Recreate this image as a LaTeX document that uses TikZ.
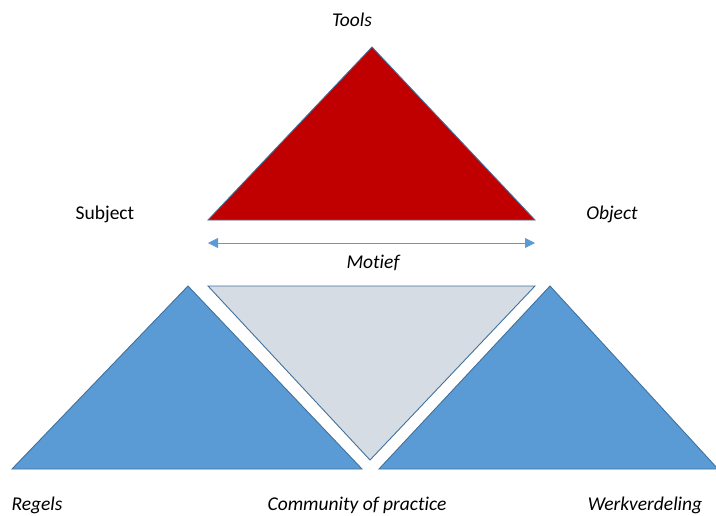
\documentclass[tikz,border=0pt]{standalone}
\usepackage{fontspec}
\setmainfont[Ligatures=NoCommon]{Carlito}
\definecolor{toolred}{HTML}{C00000}
\definecolor{ruleblue}{HTML}{5B9BD5}
\definecolor{commgrey}{HTML}{D6DCE4}
\definecolor{edgeblue}{HTML}{41719C}
\usetikzlibrary{arrows.meta}
\begin{document}
\begin{tikzpicture}
		[x=1pt, y=-1pt,
		tri/.style= {draw=edgeblue, line width=0.9pt, line join=miter},
		lbl/.style= {font=\fontsize{19.5}{22}\selectfont\itshape, inner sep=0pt}]

		\useasboundingbox (0,0) rectangle (716,515);

		% corners
		\coordinate (t0) at (372,47);
		\coordinate (t1) at (208,220);
		\coordinate (t2) at (535,220);

		\coordinate (c0) at (208,286);
		\coordinate (c1) at (535,286);
		\coordinate (c2) at (370,460);

		\coordinate (r0) at (188,286);
		\coordinate (r1) at (12,469);
		\coordinate (r2) at (362,469);

		\coordinate (w0) at (550,286);
		\coordinate (w1) at (379,469);
		\coordinate (w2) at (718,469);

		\filldraw[tri, fill=toolred] (t0) -- (t1) -- (t2) -- cycle;
		\filldraw[tri, fill=commgrey] (c0) -- (c1) -- (c2) -- cycle;
		\filldraw[tri, fill=ruleblue] (r0) -- (r1) -- (r2) -- cycle;
		\filldraw[tri, fill=ruleblue] (w0) -- (w1) -- (w2) -- cycle;

		% motief
		\coordinate (m1) at (208,243);
		\coordinate (m2) at (535,243);
		\draw[ruleblue, line width=0.8pt, {Triangle[width=10pt,length=10pt]}-{Triangle[width=10pt,length=10pt]}] (m1) -- (m2);

		\node[lbl] (tools) at (352,20) {Tools};
		\node[lbl, font=\fontsize{19.5}{22}\selectfont] (subject) at (105,214) {Subject};
		\node[lbl] (object) at (612,214) {Object};
		\node[lbl] (motief) at (373,263) {Motief};
		\node[lbl] (regels) at (37,505) {Regels};
		\node[lbl] (community) at (357,505) {Community of practice};
		\node[lbl] (werk) at (645,505) {Werkverdeling};

	\end{tikzpicture}
\end{document}
